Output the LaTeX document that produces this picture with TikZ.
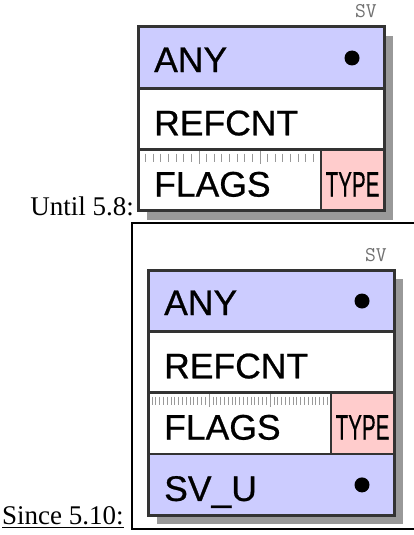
\documentclass[tikz,border=0pt]{standalone}
\usepackage{fontspec}
\usepackage{graphicx}
\setmainfont{Liberation Serif}
\newfontfamily\boxfont[FakeBold=0.7]{Liberation Sans}
\definecolor{svblue}{HTML}{CCCCFF}
\definecolor{svpink}{HTML}{FFCCCC}
\definecolor{svborder}{HTML}{333333}
\definecolor{svshadow}{HTML}{999999}
\definecolor{svtick}{HTML}{999999}
\definecolor{svlabel}{HTML}{707070}
\tikzset{
  field/.style={font=\boxfont\fontsize{35.5}{36}\selectfont, anchor=base west, inner sep=0pt, text=black},
  typefield/.style={font=\boxfont\fontsize{35.5}{36}\selectfont, anchor=base, inner sep=0pt, text=black},
  svlab/.style={font=\ttfamily\fontsize{21}{21}\selectfont, text=svlabel, anchor=base east, inner sep=0pt},
  caption/.style={font=\fontsize{27}{27}\selectfont, inner sep=0pt, text=black},
  ptr/.style={fill=black, circle, minimum size=15pt, inner sep=0pt},
  sep/.style={draw=svborder, line width=2.5pt},
  outer/.style={draw=svborder, line width=3pt},
  tick/.style={draw=svtick, line width=0.8pt},
  frameline/.style={draw=black, line width=2pt},
}
\begin{document}
\begin{tikzpicture}[x=1pt,y=-1pt]
\useasboundingbox (0,0) rectangle (414,535);
\def\W{246}
\def\h{61.3}
\def\F{183}
% ---------- Until 5.8 ----------
\node[caption, anchor=base east] (until) at (134,215) {Until 5.8:};
\begin{scope}[shift={(138,27)}]
  \fill[svshadow] (9,9) rectangle (\W+9,3*\h+9);
  \fill[svblue] (0,0) rectangle (\W,\h);
  \fill[white] (0,\h) rectangle (\W,2*\h);
  \fill[white] (0,2*\h) rectangle (\F,3*\h);
  \fill[svpink] (\F,2*\h) rectangle (\W,3*\h);
  \foreach \k in {1,...,23} {
    \ifnum\k=8 \draw[tick] (\k*\F/24,2*\h+1.5) -- (\k*\F/24,2*\h+14);
    \else\ifnum\k=16 \draw[tick] (\k*\F/24,2*\h+1.5) -- (\k*\F/24,2*\h+14);
    \else \draw[tick] (\k*\F/24,2*\h+4) -- (\k*\F/24,2*\h+12);\fi\fi
  }
  \draw[sep] (0,\h) -- (\W,\h);
  \draw[sep] (0,2*\h) -- (\W,2*\h);
  \draw[sep] (\F,2*\h) -- (\F,3*\h);
  \draw[outer] (0,0) rectangle (\W,3*\h);
  \node[svlab] (sv1) at (239,-9) {SV};
  \node[field] (any1) at (16,45) {ANY};
  \node[ptr] (anyptr1) at (214,31) {};
  \node[field] (refcnt1) at (16,\h+47) {REFCNT};
  \node[field] (flags1) at (16,2*\h+47) {FLAGS};
  \node[typefield] (type1) at (214.5,2*\h+47) {\scalebox{0.58}[1]{TYPE}};
\end{scope}
% ---------- Since 5.10 ----------
\draw[frameline] (414,223) -- (132,223) -- (132,529) -- (414,529);
\node[caption, anchor=base west] (since) at (2,524) {Since 5.10:};
\draw[line width=1.4pt] ([yshift=-3.5pt]since.base west) -- ([yshift=-3.5pt]since.base east);
\begin{scope}[shift={(148,270)}]
  \fill[svshadow] (9,9) rectangle (\W+9,4*\h+9);
  \fill[svblue] (0,0) rectangle (\W,\h);
  \fill[white] (0,\h) rectangle (\W,2*\h);
  \fill[white] (0,2*\h) rectangle (\F,3*\h);
  \fill[svpink] (\F,2*\h) rectangle (\W,3*\h);
  \fill[svblue] (0,3*\h) rectangle (\W,4*\h);
  \foreach \k in {1,...,47} {
    \ifnum\k=16 \draw[tick] (\k*\F/48,2*\h+1.5) -- (\k*\F/48,2*\h+14);
    \else\ifnum\k=32 \draw[tick] (\k*\F/48,2*\h+1.5) -- (\k*\F/48,2*\h+14);
    \else \draw[tick, line width=0.6pt] (\k*\F/48,2*\h+4) -- (\k*\F/48,2*\h+12);\fi\fi
  }
  \draw[sep] (0,\h) -- (\W,\h);
  \draw[sep] (0,2*\h) -- (\W,2*\h);
  \draw[sep] (0,3*\h) -- (\W,3*\h);
  \draw[sep] (\F,2*\h) -- (\F,3*\h);
  \draw[outer] (0,0) rectangle (\W,4*\h);
  \node[svlab] (sv2) at (239,-9) {SV};
  \node[field] (any2) at (16,45) {ANY};
  \node[ptr] (anyptr2) at (214,31) {};
  \node[field] (refcnt2) at (16,\h+47) {REFCNT};
  \node[field] (flags2) at (16,2*\h+47) {FLAGS};
  \node[typefield] (type2) at (214.5,2*\h+47) {\scalebox{0.58}[1]{TYPE}};
  \node[field] (svu2) at (16,3*\h+47) {SV\_U};
  \node[ptr] (svuptr2) at (214,3*\h+31) {};
\end{scope}
\end{tikzpicture}
\end{document}
